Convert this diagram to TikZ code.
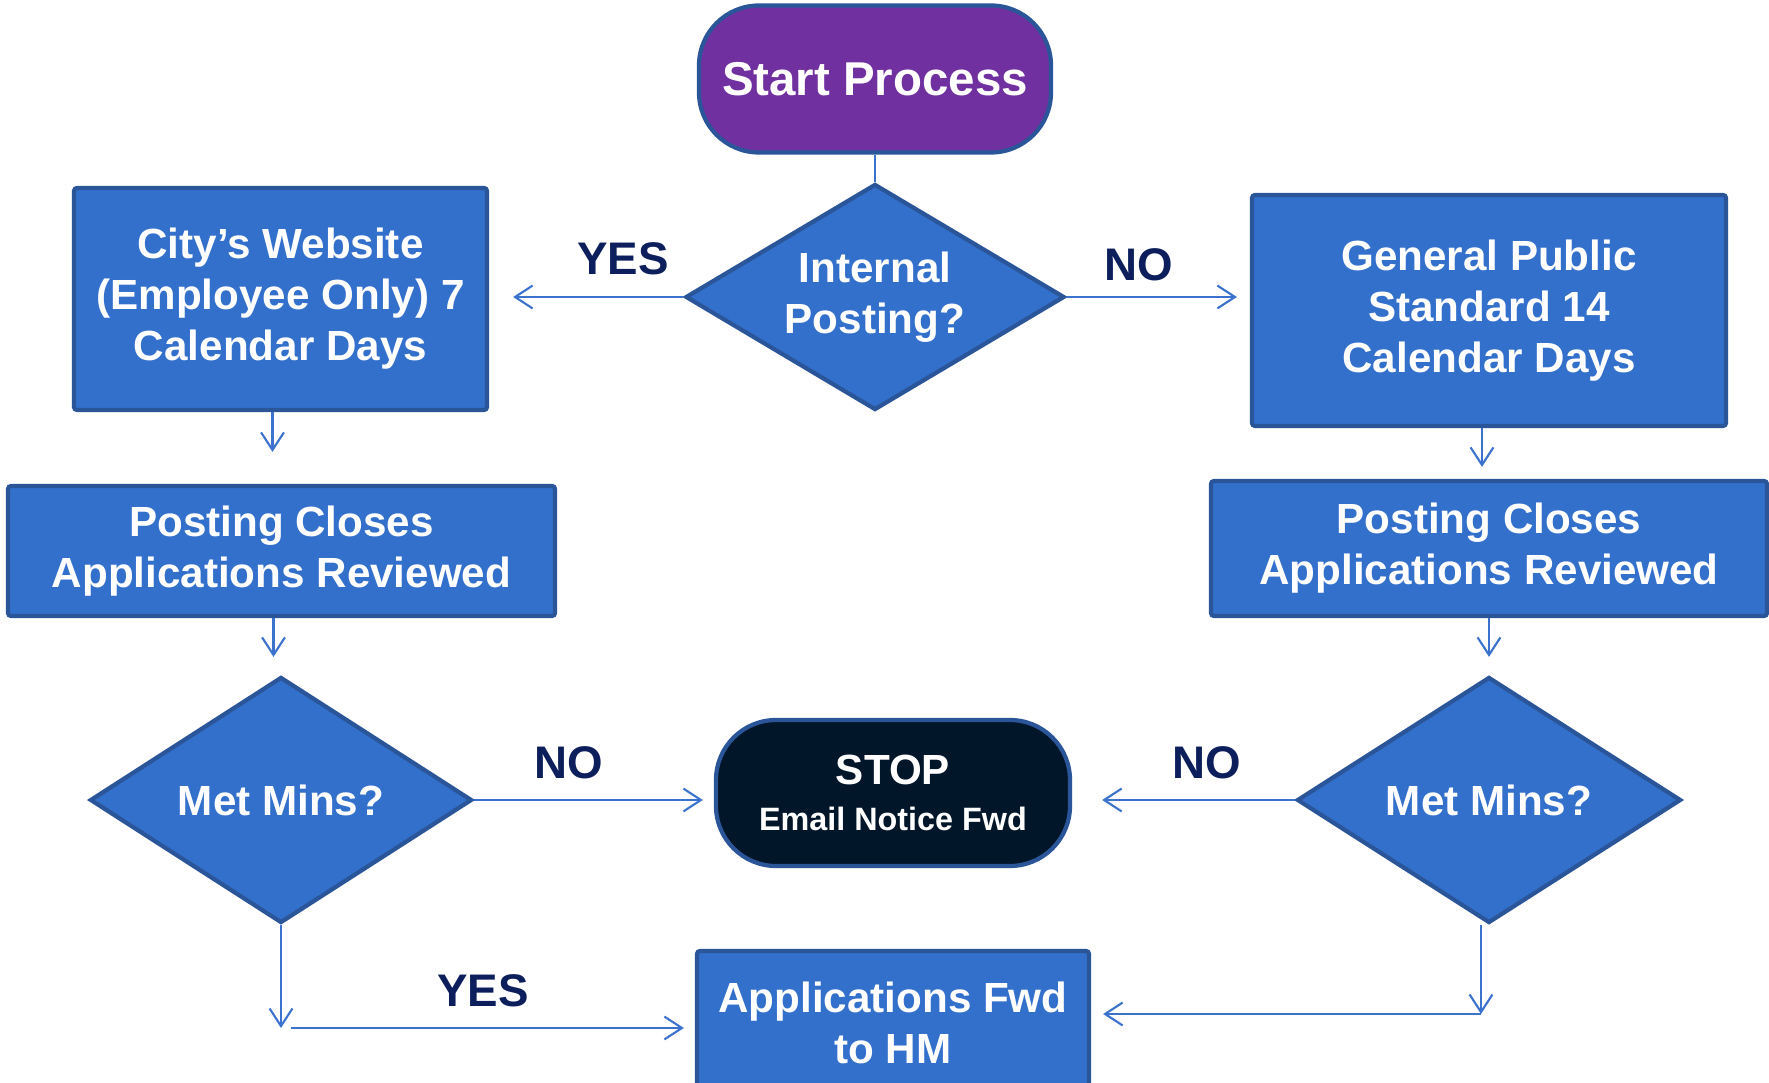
\documentclass[tikz,border=0pt]{standalone}
\usepackage{fontspec}
\setmainfont{Liberation Sans}
\usetikzlibrary{shapes.geometric,arrows.meta}
\definecolor{boxblue}{HTML}{3370CC}
\definecolor{edgeblue}{HTML}{2A5599}
\definecolor{lineblue}{HTML}{3A72CE}
\definecolor{startpurple}{HTML}{7030A0}
\definecolor{stopnavy}{HTML}{021629}
\definecolor{labelnavy}{HTML}{0C1F5C}
\begin{document}
\begin{tikzpicture}[>={Straight Barb[length=5pt,width=6.5pt]}]
            \tikzstyle{proc} = [draw=edgeblue, line width=1.2pt, fill=boxblue, text=white, align=center, inner sep=0pt, rounded corners=0.03cm, font={\bfseries\fontsize{12}{14.5}\selectfont}]
            \tikzstyle{decide} = [diamond, aspect=1.7, draw=edgeblue, line width=1.2pt, fill=boxblue, text=white, align=center, inner sep=0pt, font={\bfseries\fontsize{12}{14.5}\selectfont}]
            \tikzstyle{term} = [draw=edgeblue, line width=1.2pt, text=white, align=center, inner sep=0pt, rounded corners=0.6cm]
            \tikzstyle{flow} = [color=lineblue, line width=0.6pt, ->]
            \tikzstyle{answer} = [text=labelnavy, font={\bfseries\fontsize{13}{15}\selectfont}]
            \useasboundingbox (0,0) rectangle (17.69,-10.83);
            \node[term, fill=startpurple, minimum width=3.52cm, minimum height=1.47cm, font={\bfseries\fontsize{13.5}{16}\selectfont}] (start) at (8.75,-0.79) {Start Process};
            \node[decide, minimum width=3.79cm, minimum height=2.26cm] (intpost) at (8.75,-2.97) {Internal\\Posting?};
            \node[proc, minimum width=4.13cm, minimum height=2.22cm] (city) at (2.805,-2.99) {City’s Website\\(Employee Only) 7\\Calendar Days};
            \node[proc, minimum width=4.74cm, minimum height=2.31cm] (public) at (14.89,-3.105) {General Public\\Standard 14\\Calendar Days};
            \node[proc, minimum width=5.47cm, minimum height=1.30cm] (closeL) at (2.815,-5.51) {Posting Closes\\Applications Reviewed};
            \node[proc, minimum width=5.56cm, minimum height=1.35cm] (closeR) at (14.89,-5.485) {Posting Closes\\Applications Reviewed};
            \node[decide, minimum width=3.82cm, minimum height=2.46cm] (minsL) at (2.81,-8.00) {Met Mins?};
            \node[decide, minimum width=3.84cm, minimum height=2.46cm] (minsR) at (14.89,-8.00) {Met Mins?};
            \node[term, fill=stopnavy, minimum width=3.54cm, minimum height=1.46cm] (stop) at (8.93,-7.93) {{\bfseries\fontsize{12}{14.5}\selectfont STOP}\\[1pt]{\bfseries\fontsize{9.2}{11}\selectfont Email Notice Fwd}};
            \node[proc, minimum width=3.92cm, minimum height=1.44cm] (tohm) at (8.93,-10.23) {Applications Fwd\\to HM};
            \node[answer] (yesA) at (6.23,-2.59) {YES};
            \node[answer] (noA) at (11.39,-2.65) {NO};
            \node[answer] (noL) at (5.69,-7.63) {NO};
            \node[answer] (noR) at (12.07,-7.63) {NO};
            \node[answer] (yesL) at (4.83,-9.91) {YES};
            \coordinate (bendL) at (2.81,-10.28);
            \coordinate (bendR) at (14.81,-10.14);
            \draw[color=lineblue, line width=0.6pt] (start) -- (intpost);
            \draw[flow, shorten >=0.24cm] (intpost.west) -- (intpost.west -| city.east);
            \draw[flow, shorten >=0.13cm] (intpost.east) -- (intpost.east -| public.west);
            \draw[flow, shorten >=0.32cm] ([xshift=-0.08cm]city.south) -- ([xshift=-0.08cm]city.south |- closeL.north);
            \draw[flow, shorten >=0.18cm] ([xshift=-0.08cm]closeL.south) -- ([xshift=-0.08cm]closeL.south |- minsL.north);
            \draw[flow, shorten >=0.12cm] ([xshift=-0.07cm]public.south) -- ([xshift=-0.07cm]public.south |- closeR.north);
            \draw[flow, shorten >=0.18cm] (closeR) -- (minsR);
            \draw[flow, shorten >=0.11cm] (minsL.east) -- (minsL.east -| stop.west);
            \draw[flow, shorten >=0.30cm] (minsR.west) -- (minsR.west -| stop.east);
            \draw[flow] (minsL) -- (bendL);
            \draw[flow, shorten >=0.11cm] ([xshift=0.1cm]bendL) -- (bendL -| tohm.west);
            \draw[flow] (bendR |- minsR.south) -- (bendR);
            \draw[flow, shorten >=0.12cm] (bendR) -- (bendR -| tohm.east);
        \end{tikzpicture}
\end{document}
